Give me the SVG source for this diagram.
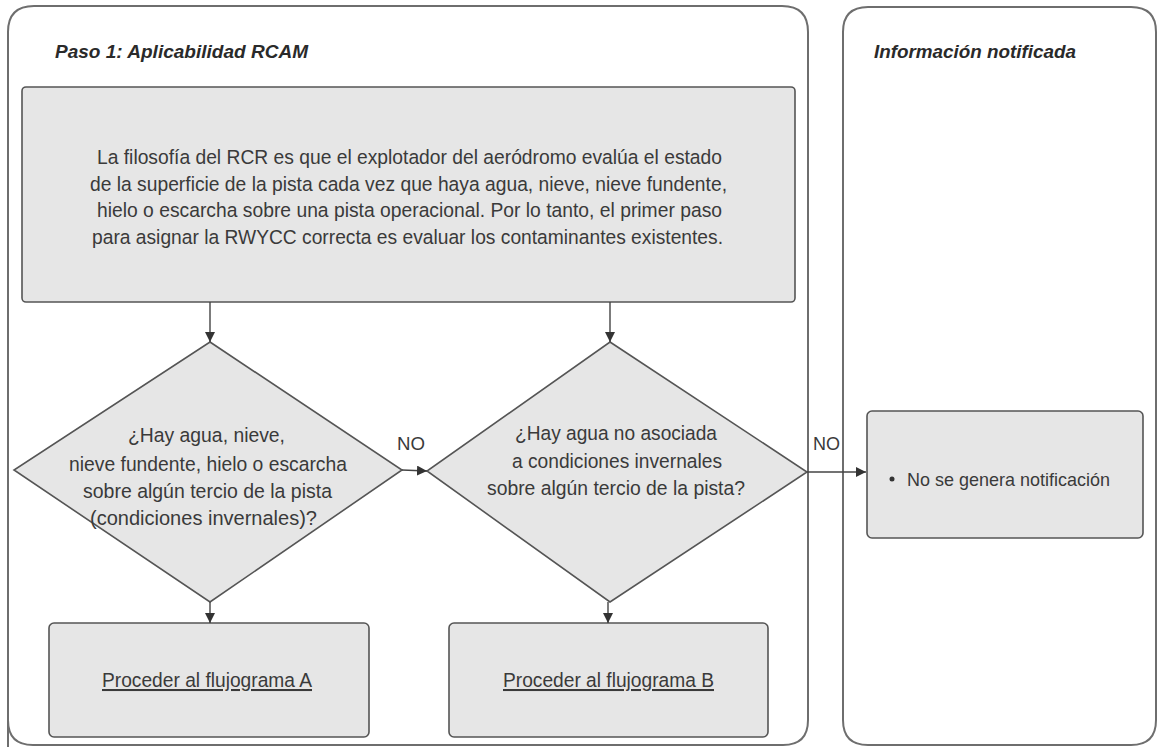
<svg xmlns="http://www.w3.org/2000/svg" width="1160" height="747" viewBox="0 0 1160 747">
<style>
.panel{fill:#fff;stroke:#6e6e6e;stroke-width:2}
.box{fill:#e6e6e6;stroke:#555;stroke-width:1.6}
.t{font-family:"Liberation Sans",Arial,sans-serif;font-size:20.5px;fill:#3a3a3a;text-anchor:middle}
.h{font-family:"Liberation Sans",Arial,sans-serif;font-size:18.5px;font-weight:bold;font-style:italic;fill:#2a2a2a}
.c{stroke:#444;stroke-width:1.4;fill:none;marker-end:url(#ah)}
</style>
<defs>
<marker id="ah" viewBox="0 0 10 10" refX="10" refY="5" markerWidth="10" markerHeight="10" markerUnits="userSpaceOnUse" orient="auto">
<path d="M0,0 L10,5 L0,10 z" fill="#333"/>
</marker>
</defs>
<rect width="1160" height="747" fill="#fff"/>
<g id="panel-step1">
<path class="panel" d="M8,770 L8,32 Q8,6 34,6 L782,6 Q808,6 808,32 L808,720 Q808,745 783,745 L33,745 Q8,745 8,720 Z"/>
<text class="h" x="55" y="58" textLength="253" lengthAdjust="spacingAndGlyphs">Paso 1: Aplicabilidad RCAM</text>
</g>
<g id="panel-info">
<path class="panel" d="M843,32 Q843,7 868,7 L1131,7 Q1156,7 1156,32 L1156,720 Q1156,745 1131,745 L868,745 Q843,745 843,720 Z"/>
<text class="h" x="874" y="58" textLength="202" lengthAdjust="spacingAndGlyphs">Información notificada</text>
</g>
<g id="node-intro">
<rect class="box" x="22" y="87" width="773" height="215" rx="4"/>
<text class="t" x="409.5" y="164" textLength="625" lengthAdjust="spacingAndGlyphs">La filosofía del RCR es que el explotador del aeródromo evalúa el estado</text>
<text class="t" x="408.5" y="191" textLength="637" lengthAdjust="spacingAndGlyphs">de la superficie de la pista cada vez que haya agua, nieve, nieve fundente,</text>
<text class="t" x="409.5" y="217" textLength="625" lengthAdjust="spacingAndGlyphs">hielo o escarcha sobre una pista operacional. Por lo tanto, el primer paso</text>
<text class="t" x="407.5" y="244" textLength="631" lengthAdjust="spacingAndGlyphs">para asignar la RWYCC correcta es evaluar los contaminantes existentes.</text>
</g>
<g id="node-q1">
<polygon class="box" points="210,342 402,470 210,602 14,470"/>
<text class="t" x="206.5" y="442" textLength="157" lengthAdjust="spacingAndGlyphs">¿Hay agua, nieve,</text>
<text class="t" x="208" y="471" textLength="278" lengthAdjust="spacingAndGlyphs">nieve fundente, hielo o escarcha</text>
<text class="t" x="207.5" y="498" textLength="249" lengthAdjust="spacingAndGlyphs">sobre algún tercio de la pista</text>
<text class="t" x="203.5" y="525" textLength="227" lengthAdjust="spacingAndGlyphs">(condiciones invernales)?</text>
</g>
<g id="node-q2">
<polygon class="box" points="610,342 807,472 610,602 427,471"/>
<text class="t" x="616" y="440" textLength="202" lengthAdjust="spacingAndGlyphs">¿Hay agua no asociada</text>
<text class="t" x="617" y="468" textLength="210" lengthAdjust="spacingAndGlyphs">a condiciones invernales</text>
<text class="t" x="616" y="495" textLength="258" lengthAdjust="spacingAndGlyphs">sobre algún tercio de la pista?</text>
</g>
<g id="node-a">
<rect class="box" x="49" y="623" width="320" height="114" rx="5"/>
<text class="t" x="207" y="687" text-decoration="underline" textLength="210" lengthAdjust="spacingAndGlyphs">Proceder al flujograma A</text>
</g>
<g id="node-b">
<rect class="box" x="449" y="623" width="319" height="114" rx="5"/>
<text class="t" x="608.5" y="687" text-decoration="underline" textLength="211" lengthAdjust="spacingAndGlyphs">Proceder al flujograma B</text>
</g>
<g id="node-notif">
<rect class="box" x="867" y="411" width="276" height="127" rx="5"/>
<circle cx="892" cy="479" r="2.5" fill="#333"/>
<text class="t" x="907" y="486" style="text-anchor:start;font-size:19px" textLength="203" lengthAdjust="spacingAndGlyphs">No se genera notificación</text>
</g>
<g id="connectors">
<line class="c" x1="210" y1="302" x2="210" y2="342"/>
<line class="c" x1="610" y1="302" x2="610" y2="342"/>
<line class="c" x1="402" y1="470" x2="427" y2="471"/>
<line class="c" x1="807" y1="472" x2="866" y2="472"/>
<line class="c" x1="210" y1="602" x2="210" y2="623"/>
<line class="c" x1="608" y1="602" x2="608" y2="623"/>
<text class="t" x="411" y="450" style="font-size:19px" textLength="28" lengthAdjust="spacingAndGlyphs">NO</text>
<text class="t" x="826.5" y="450" style="font-size:19px" textLength="27" lengthAdjust="spacingAndGlyphs">NO</text>
</g>
</svg>
